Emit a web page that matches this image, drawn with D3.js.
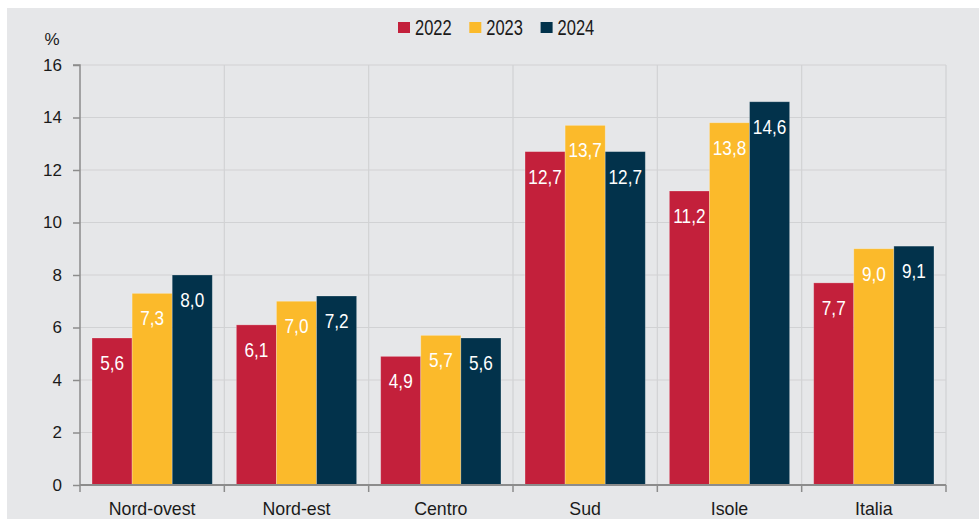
<!DOCTYPE html>
<html>
<head>
<meta charset="utf-8">
<script src="https://cdn.jsdelivr.net/npm/d3@7"></script>
<style>
html,body{margin:0;padding:0;background:#fff;}
svg{display:block;font-family:"Liberation Sans",Arial,sans-serif;}
</style>
</head>
<body>
<svg id="chart" width="979" height="519"></svg>
<script>
const categories = ["Nord-ovest","Nord-est","Centro","Sud","Isole","Italia"];
const seriesNames = ["2022","2023","2024"];
const values2022 = [5.6, 6.1, 4.9, 12.7, 11.2, 7.7];
const values2023 = [7.3, 7.0, 5.7, 13.7, 13.8, 9.0];
const values2024 = [8.0, 7.2, 5.6, 12.7, 14.6, 9.1];
const yTicks = [0,2,4,6,8,10,12,14,16];
const colors = ["#c3203b","#fbba2b","#02324b"];

const allSeries = [values2022, values2023, values2024];
const svg = d3.select("#chart");

svg.append("rect").attr("x",7).attr("y",8).attr("width",979-7).attr("height",519-8).attr("fill","#e6e7e9");

const L = 80, R = 946, T = 65, B = 485;
const x = d3.scaleBand().domain(categories).range([L,R]).paddingInner(0).paddingOuter(0);
const x1 = d3.scaleBand().domain(seriesNames).range([0, x.bandwidth()]).paddingOuter(0.3).paddingInner(0);
const y = d3.scaleLinear().domain([0,16]).range([B,T]);

// horizontal grid
svg.append("g").selectAll("line").data(yTicks.filter(d=>d>0)).join("line")
  .attr("x1",L).attr("x2",R).attr("y1",d=>y(d)).attr("y2",d=>y(d))
  .attr("stroke","#d1d2d4").attr("stroke-width",1.2);
// vertical grid at category boundaries
const bounds = categories.slice(1).map(c=>x(c)).concat([R]);
svg.append("g").selectAll("line").data(bounds).join("line")
  .attr("x1",d=>d).attr("x2",d=>d).attr("y1",T).attr("y2",B)
  .attr("stroke","#d1d2d4").attr("stroke-width",1.2);

// bars
const g = svg.append("g");
categories.forEach((c,i)=>{
  seriesNames.forEach((s,j)=>{
    const v = allSeries[j][i];
    const bx = x(c)+x1(s);
    const cx = bx+x1.bandwidth()/2;
    g.append("rect").attr("x",bx).attr("y",y(v)).attr("width",x1.bandwidth()).attr("height",B-y(v))
      .attr("fill",colors[j]).attr("stroke","#ffffff").attr("stroke-opacity",0.3).attr("stroke-width",0.8);
    g.append("text").attr("transform",`translate(${cx},${y(v)+32}) scale(0.86,1)`)
      .attr("text-anchor","middle").attr("fill","#ffffff").attr("font-size","20px")
      .text(d3.format(".1f")(v).replace(".",","));
  });
});

// y axis
const yAxis = d3.axisLeft(y).tickValues(yTicks).tickSize(7).tickPadding(11).tickFormat(d=>d);
const ya = svg.append("g").attr("transform",`translate(${L},0)`).call(yAxis);
ya.select(".domain").attr("stroke","#8c8c8c").attr("stroke-width",1.5).attr("d",`M-7,${T}H0V${B}`);
ya.selectAll(".tick line").attr("stroke","#8c8c8c").attr("stroke-width",1.5);
ya.selectAll(".tick text").attr("font-size","17px").attr("fill","#1a1a1a").attr("font-family","Liberation Sans, Arial, sans-serif");

// x axis
const xa = svg.append("g").attr("transform",`translate(0,${B})`);
xa.append("line").attr("x1",L).attr("x2",R).attr("y1",0).attr("y2",0).attr("stroke","#8c8c8c").attr("stroke-width",2);
xa.selectAll("line.t").data([L].concat(bounds)).join("line").attr("class","t")
  .attr("x1",d=>d).attr("x2",d=>d).attr("y1",0).attr("y2",7).attr("stroke","#8c8c8c").attr("stroke-width",1.5);
xa.selectAll("text").data(categories).join("text")
  .attr("x",d=>x(d)+x.bandwidth()/2).attr("y",30).attr("text-anchor","middle")
  .attr("font-size","18.5px").attr("fill","#1a1a1a")
  .attr("transform",d=>{const cx=x(d)+x.bandwidth()/2; return `translate(${cx},0) scale(0.96,1) translate(${-cx},0)`;})
  .text(d=>d);

// % label
svg.append("text").attr("x",52).attr("y",45).attr("text-anchor","middle").attr("font-size","17px").attr("fill","#1a1a1a").text("%");

// legend
const lg = svg.append("g");
seriesNames.forEach((s,j)=>{
  const lx = 398 + j*71.3;
  lg.append("rect").attr("x",lx).attr("y",22).attr("width",12).attr("height",11).attr("fill",colors[j]);
  lg.append("text").attr("transform",`translate(${lx+17},34.7) scale(0.77,1)`)
    .attr("font-size","21.4px").attr("fill","#1a1a1a").text(s);
});
</script>
</body>
</html>
